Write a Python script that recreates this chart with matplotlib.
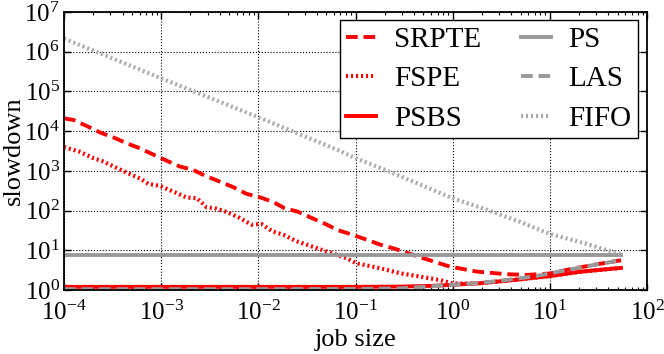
import numpy as np
import matplotlib
matplotlib.use("Agg")
import matplotlib.pyplot as plt
from matplotlib.ticker import LogLocator

plt.rcParams['font.family'] = ['Liberation Serif', 'DejaVu Serif']
plt.rcParams['mathtext.fontset'] = 'stix'

# job size -> slowdown
srpteX = [1e-4, 1.26e-4, 1.78e-4, 2.34e-4, 3.39e-4, 4.47e-4, 6.03e-4, 8.51e-4, 1.15e-3, 1.55e-3,
          2.14e-3, 2.88e-3, 3.98e-3, 5.5e-3, 7.59e-3, 1.05e-2, 1.41e-2, 1.86e-2, 2.57e-2, 3.55e-2,
          4.9e-2, 6.61e-2, 9.12e-2, 0.126, 0.178, 0.245, 0.5, 0.93, 1.78, 3.55, 5.75, 10, 14.8, 28.2, 54]
srpteY = [21000, 19000, 12900, 9300, 6600, 4900, 3700, 2500, 1780, 1290,
          1050, 740, 540, 390, 263, 214, 166, 115, 93, 65,
          46, 32, 25, 19, 14, 11.2, 6.3, 3.9, 2.9, 2.5, 2.4, 2.6, 3.2, 4.3, 5.6]

fspeX = [1e-4, 1.45e-4, 2e-4, 2.45e-4, 3.24e-4, 4.47e-4, 6.03e-4, 7.41e-4, 9.77e-4, 1.32e-3,
         1.82e-3, 2.34e-3, 2.95e-3, 3.55e-3, 4.68e-3, 6.46e-3, 8.51e-3, 1.07e-2, 1.41e-2, 1.82e-2,
         2.45e-2, 3.24e-2, 4.27e-2, 5.89e-2, 8.13e-2, 0.102, 0.178, 0.288, 0.457, 0.741,
         1.0, 1.9, 4.2, 10, 20.4, 54]
fspeY = [3980, 3020, 2090, 1780, 1290, 891, 646, 468, 417, 302,
         214, 204, 120, 115, 93, 65, 44, 46, 29.5, 24.5,
         17, 13.5, 10.7, 8.3, 6.3, 4.7, 3.55, 2.63, 2.19, 1.78,
         1.45, 1.48, 1.78, 2.24, 2.88, 3.6]

psbsX = [1e-4, 1e-3, 1e-2, 0.1, 0.3, 0.6, 1.0, 1.9, 4.2, 10, 20.4, 54]
psbsY = [1.2, 1.2, 1.2, 1.2, 1.22, 1.27, 1.35, 1.48, 1.78, 2.24, 2.88, 3.6]

psX = [1e-4, 54]
psY = [7.6, 7.6]

lasX = [1e-4, 1e-3, 1e-2, 0.1, 0.3, 1.0, 1.9, 3.55, 7.2, 14.8, 28.2, 54]
lasY = [1.05, 1.05, 1.05, 1.06, 1.1, 1.35, 1.51, 1.78, 2.24, 3.16, 4.27, 5.6]

fifoX = [1e-4, 1e-3, 1e-2, 6.5e-2, 0.1, 0.224, 1.0, 2.24, 4.9, 10, 24, 38, 54]
fifoY = [2.14e6, 2.14e5, 2.24e4, 3390, 2090, 955, 204, 105, 52.5, 25.7, 14.5, 10.2, 8.1]

xDecades = [1e-4, 1e-3, 1e-2, 1e-1, 1e0, 1e1, 1e2]
yDecades = [1e0, 1e1, 1e2, 1e3, 1e4, 1e5, 1e6, 1e7]

fig = plt.figure(figsize=(6.64, 3.54), dpi=100)
ax = fig.add_axes([0.0964, 0.1808, 0.878, 0.7853])

red = '#ff0000'
gray = '#999999'
ax.plot(srpteX, srpteY, color=red, lw=2.8, linestyle=(0, (3, 1.5)), label='SRPTE')
ax.plot(fspeX, fspeY, color=red, lw=3, linestyle=(0, (0.5, 0.7)), label='FSPE')
ax.plot(psbsX, psbsY, color=red, lw=2.8, label='PSBS')
ax.plot(psX, psY, color=gray, lw=2.8, label='PS')
ax.plot(lasX, lasY, color=gray, lw=2.8, linestyle=(0, (3, 1.5)), label='LAS')
ax.plot(fifoX, fifoY, color='#aaaaaa', lw=3, linestyle=(0, (0.5, 0.7)), label='FIFO')

ax.set_xscale('log')
ax.set_yscale('log')
ax.set_xticks(xDecades)
ax.set_yticks(yDecades)
ax.set_xlim(1e-4, 1e2)
ax.set_ylim(1, 1e7)
ax.grid(True, which='major', color='black', linestyle=':', linewidth=0.8)
ax.tick_params(which='both', direction='in', top=True, right=True, labelsize=18)
ax.tick_params(axis='x', pad=8)
ax.tick_params(axis='y', pad=3)
ax.tick_params(which='major', length=5, width=1)
ax.tick_params(which='minor', length=2.5, width=0.8)
for s in ax.spines.values():
    s.set_linewidth(1.3)

ax.set_xlabel('job size', fontsize=19, va='center')
ax.set_ylabel('slowdown', fontsize=19, va='center')
ax.xaxis.set_label_coords(0.5, -0.18)
ax.yaxis.set_label_coords(-0.0858, 0.5)

leg = ax.legend(ncol=2, loc='upper right', bbox_to_anchor=(0.9846, 0.971), borderaxespad=0,
                fontsize=21, fancybox=False, framealpha=1, edgecolor='black',
                handlelength=1.03, handletextpad=0.6, columnspacing=1.37,
                labelspacing=0.45, borderpad=0.22)
leg.get_frame().set_linewidth(1.0)

fig.savefig('out.png', dpi=100)
